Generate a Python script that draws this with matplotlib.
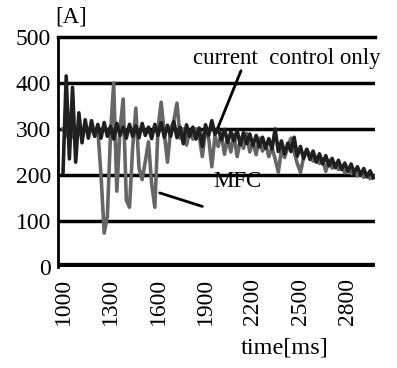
import numpy as np
import matplotlib
matplotlib.use("Agg")
import matplotlib.pyplot as plt

# sampled every 20 ms starting at 1000 ms
t_start = 1000
t_step = 20

# current control only [A]
cc_current = [
    205, 415, 235, 390, 228, 335, 270, 320, 280, 318,
    284, 310, 280, 314, 284, 306, 278, 312, 286, 304,
    280, 310, 284, 307, 281, 312, 286, 304, 279, 310,
    286, 314, 282, 308, 284, 316, 281, 304, 268, 309,
    284, 304, 278, 302, 262, 309, 286, 318, 288, 302,
    276, 299, 271, 294, 274, 296, 266, 292, 268, 289,
    264, 286, 261, 282, 258, 279, 256, 300, 251, 274,
    246, 269, 251, 282, 241, 262, 236, 256, 234, 252,
    228, 246, 224, 242, 220, 236, 216, 232, 212, 226,
    208, 224, 204, 218, 200, 214, 196, 209, 194,
]

# MFC [A]
mfc_current = [
    300, 285, 310, 290, 270, 300, 285, 305, 290, 300,
    285, 298, 200, 74, 110, 290, 400, 165, 300, 365,
    145, 130, 260, 345, 215, 190, 230, 272, 180, 130,
    300, 358, 290, 228, 300, 318, 356, 280, 300, 265,
    295, 278, 300, 285, 240, 296, 280, 218, 285, 262,
    290, 245, 280, 250, 288, 240, 275, 258, 290, 250,
    272, 244, 280, 252, 268, 240, 260, 235, 206, 255,
    238, 262, 280, 250, 225, 206, 238, 255, 243, 230,
    238, 225, 235, 208, 232, 215, 225, 212, 220, 205,
    215, 203, 210, 198, 205, 195, 200, 192, 198,
]

x_ticks = [1000, 1300, 1600, 1900, 2200, 2500, 2800]
y_ticks = [0, 100, 200, 300, 400, 500]

t_cc = t_start + t_step * np.arange(len(cc_current))
t_mfc = t_start + t_step * np.arange(len(mfc_current))

plt.rcParams["font.family"] = ["Liberation Serif", "DejaVu Serif"]

fig = plt.figure(figsize=(3.97, 3.68), dpi=100)
ax = fig.add_axes([0.146, 0.274, 0.799, 0.626])

ax.plot(t_mfc, mfc_current, color="0.4", lw=2.6, zorder=2)
ax.plot(t_cc, cc_current, color="0.12", lw=2.6, zorder=3)

# heavy horizontal rules of the original print
for v in [100, 200, 300, 400]:
    ax.axhline(v, color="black", lw=2.5, zorder=1)
ax.axhline(0, color="black", lw=6, zorder=4)

ax.set_xlim(968, 2972)
ax.set_ylim(0, 500)
ax.set_xticks(x_ticks)
ax.set_yticks(y_ticks)
ax.tick_params(axis="both", length=0, labelsize=17)
ax.tick_params(axis="x", rotation=90, pad=8)
ax.tick_params(axis="y", pad=5)

ax.spines["right"].set_visible(False)
ax.spines["bottom"].set_visible(False)
ax.spines["top"].set_linewidth(2.5)
ax.spines["left"].set_linewidth(2.0)

# callouts
ax.text(1821, 452, "current  control only", fontsize=16.5, ha="left", va="center")
ax.annotate("", xy=(1973, 298), xytext=(2131, 432),
            arrowprops=dict(arrowstyle="-", color="black", lw=2))
ax.annotate("", xy=(1594, 163), xytext=(1897, 130),
            arrowprops=dict(arrowstyle="-", color="black", lw=2))
ax.text(1947, 185, "MFC", fontsize=16.5, ha="left", va="center")

fig.text(55 / 397, 1 - 17 / 368, "[A]", fontsize=16.5, va="center", ha="left")
fig.text(285 / 397, 1 - 348 / 368, "time[ms]", fontsize=17.5, va="center", ha="center")

fig.savefig("out.png", dpi=100)
